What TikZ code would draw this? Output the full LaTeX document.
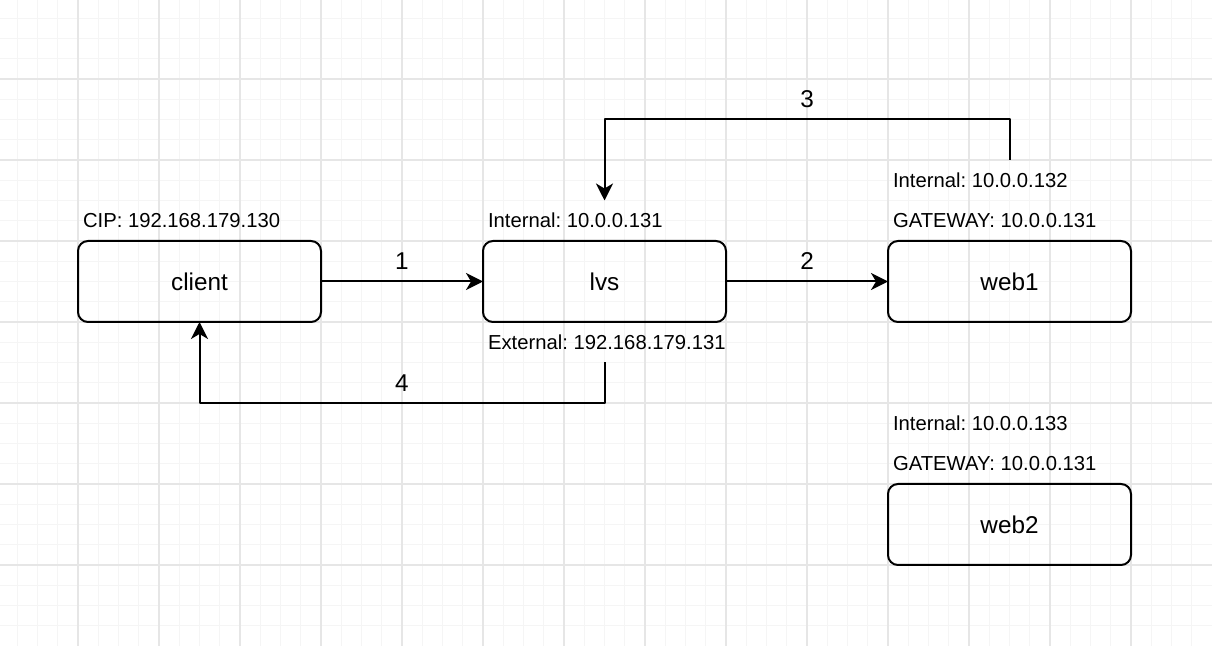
\documentclass[tikz,border=0pt]{standalone}
\usepackage{fontspec}
\setmainfont{Liberation Sans}
\frenchspacing
\usetikzlibrary{arrows.meta}
\definecolor{gridminor}{RGB}{245,245,245}
\definecolor{gridmajor}{RGB}{230,230,230}
\tikzset{
	box/.style={draw, rounded corners=10pt, line width=2pt, outer sep=0pt,
		minimum width=243pt, minimum height=81pt, font=\fontsize{24.3}{29}\selectfont},
	ipnote/.style={anchor=west, outer sep=0pt, inner xsep=0pt, inner ysep=0pt,
		minimum height=40.5pt, font=\fontsize{20.25}{24}\selectfont},
	conn/.style={line width=2pt, -{Stealth[length=17pt, width=17pt, inset=5pt]}},
	num/.style={font=\fontsize{24.3}{29}\selectfont, yshift=20.25pt}
}
\begin{document}
\begin{tikzpicture}[x=20.25pt, y={(0pt,-20.25pt)}, line join=round]
	\useasboundingbox (0.148,0.099) rectangle (60,32);
	\fill[white] (0.148,0.099) rectangle (60,32);
	% grid
	\foreach \k in {1,...,59}{
		\draw[gridminor, line width=1pt] (\k,0.099)--(\k,32);
	}
	\foreach \k in {1,...,31}{
		\draw[gridminor, line width=1pt] (0.148,\k)--(60,\k);
	}
	\foreach \k in {4,8,...,56}{
		\draw[gridmajor, line width=1.5pt] (\k,0.099)--(\k,32);
	}
	\foreach \k in {4,8,...,28}{
		\draw[gridmajor, line width=1.5pt] (0.148,\k)--(60,\k);
	}
	% hosts
	\node[box] (client) at (10,14) {client};
	\node[box] (lvs) at (30,14) {lvs};
	\node[box] (web1) at (50,14) {web1};
	\node[box] (web2) at (50,26) {web2};
	% addresses
	\node[ipnote] (cip) at (4.25,11) {CIP: 192.168.179.130};
	\node[ipnote] (lvsin) at (24.25,11) {Internal: 10.0.0.131};
	\node[ipnote] (lvsout) at (24.25,17) {External: 192.168.179.131};
	\node[ipnote] (web1in) at (44.25,9) {Internal: 10.0.0.132};
	\node[ipnote] (web1gw) at (44.25,11) {GATEWAY: 10.0.0.131};
	\node[ipnote] (web2in) at (44.25,21) {Internal: 10.0.0.133};
	\node[ipnote] (web2gw) at (44.25,23) {GATEWAY: 10.0.0.131};
	% packet path
	\draw[conn] (client) -- node[num]{1} (lvs);
	\draw[conn] (lvs) -- node[num]{2} (web1);
	\draw[conn] (web1in.north -| web1) -- ++(0,-2) -| node[num, pos=0.25]{3} (lvsin.north -| lvs);
	\draw[conn] (lvsout.south -| lvs) -- ++(0,2) -| node[num, pos=0.25]{4} (client.south);
\end{tikzpicture}
\end{document}
